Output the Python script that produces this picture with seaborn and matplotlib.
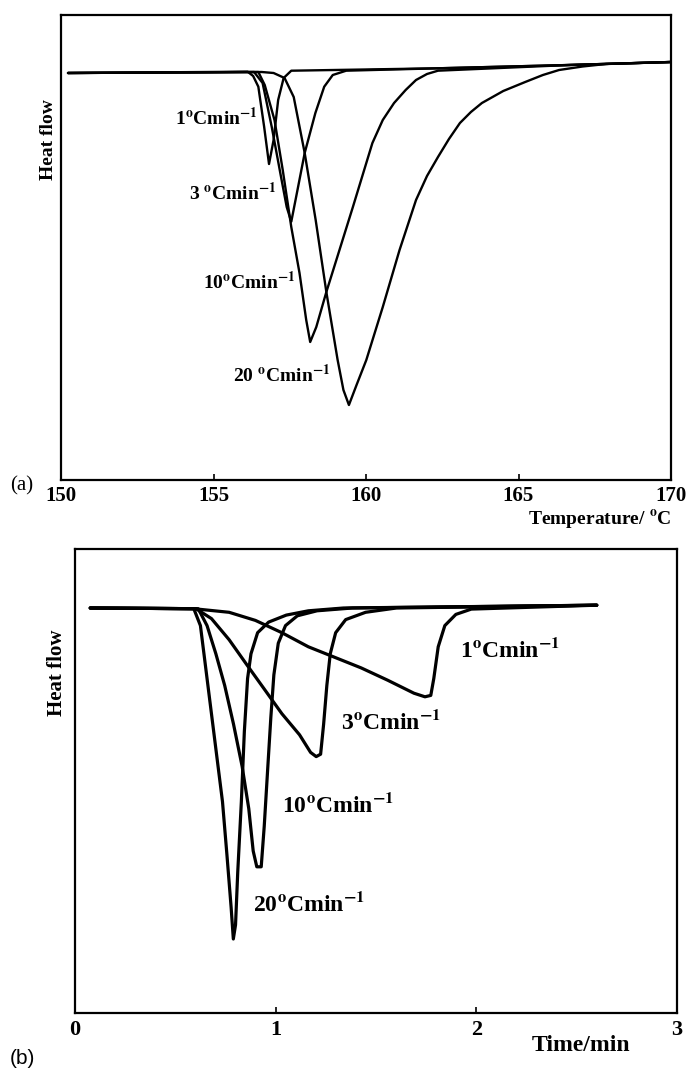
import numpy as np
import pandas as pd
import matplotlib
matplotlib.use("Agg")
import matplotlib.pyplot as plt
import seaborn as sns

# ---------------- data: panel (a) temperature scans ----------------
rates_a = ["1", "3", "10", "20"]
T_1 = [150.23, 156.12, 156.30, 156.47, 156.66, 156.82, 156.97, 157.12, 157.30, 157.55, 162.36, 166.66, 170.0]
H_1 = [-0.10, 0.03, -0.40, -1.47, -5.47, -9.20, -6.80, -2.80, -0.60, 0.13, 0.37, 0.70, 1.00]

T_3 = [150.23, 156.33, 156.61, 156.91, 157.19, 157.40, 157.55, 157.76, 157.99, 158.34, 158.63, 158.91, 159.35, 162.36, 166.66, 170.0]
H_3 = [-0.10, 0.00, -1.10, -5.50, -10.10, -13.50, -14.97, -11.70, -8.10, -4.10, -1.47, -0.30, 0.13, 0.37, 0.70, 1.00]

T_10 = [150.23, 156.47, 156.68, 157.00, 157.27, 157.55, 157.82, 158.04, 158.17, 158.37, 158.70, 159.13, 159.57, 160.21, 160.55, 160.92, 161.30, 161.64, 162.00, 162.36, 166.66, 170.0]
H_10 = [-0.10, 0.00, -1.30, -4.80, -9.80, -15.50, -20.10, -24.80, -27.00, -25.50, -22.00, -17.80, -13.50, -7.10, -4.80, -3.10, -1.80, -0.80, -0.20, 0.13, 0.70, 1.00]

T_20 = [150.23, 156.58, 156.97, 157.33, 157.63, 157.99, 158.35, 158.70, 159.07, 159.26, 159.44, 159.69, 160.01, 160.55, 161.10, 161.64, 162.00, 162.36, 162.72, 163.08, 163.44, 163.80, 164.50, 165.22, 165.80, 166.33, 167.10, 167.87, 170.0]
H_20 = [-0.10, 0.00, -0.10, -0.60, -2.50, -8.10, -14.80, -22.00, -28.80, -31.80, -33.30, -31.30, -28.80, -23.50, -17.80, -12.80, -10.40, -8.50, -6.70, -5.10, -4.00, -3.10, -1.90, -1.00, -0.30, 0.20, 0.55, 0.80, 1.00]

# ---------------- data: panel (b) isothermal-time scans ----------------
t_1 = [0.076, 0.592, 0.768, 0.899, 1.031, 1.163, 1.294, 1.426, 1.558, 1.689, 1.744, 1.773, 1.788, 1.810, 1.843, 1.898, 1.975, 2.600]
h_1 = [0.00, -0.07, -0.43, -1.24, -2.47, -3.88, -4.93, -5.99, -7.22, -8.52, -8.88, -8.74, -7.05, -3.88, -1.76, -0.64, -0.11, 0.28]

t_3 = [0.076, 0.603, 0.680, 0.768, 0.855, 0.943, 1.031, 1.119, 1.174, 1.202, 1.224, 1.239, 1.255, 1.272, 1.299, 1.349, 1.448, 1.602, 2.600]
h_3 = [0.00, -0.07, -1.06, -3.17, -5.64, -8.10, -10.57, -12.68, -14.44, -14.86, -14.62, -11.62, -7.75, -4.58, -2.47, -1.16, -0.43, 0.00, 0.28]

t_10 = [0.076, 0.614, 0.658, 0.702, 0.746, 0.790, 0.833, 0.866, 0.888, 0.906, 0.928, 0.943, 0.961, 0.976, 0.991, 1.013, 1.049, 1.108, 1.206, 1.382, 2.600]
h_10 = [0.00, -0.07, -1.76, -4.58, -7.75, -11.62, -15.85, -20.07, -24.30, -25.88, -25.88, -21.83, -15.85, -10.92, -6.69, -3.52, -1.76, -0.78, -0.28, 0.00, 0.28]

t_20 = [0.076, 0.592, 0.625, 0.647, 0.669, 0.702, 0.735, 0.757, 0.778, 0.789, 0.800, 0.811, 0.829, 0.844, 0.860, 0.877, 0.910, 0.965, 1.053, 1.163, 1.338, 2.600]
h_20 = [0.00, -0.07, -1.76, -5.28, -8.81, -14.09, -19.37, -24.65, -29.93, -33.10, -31.69, -26.41, -19.37, -12.33, -7.05, -4.58, -2.47, -1.41, -0.71, -0.28, 0.00, 0.28]

ticks_a = [150, 155, 160, 165, 170]
ticks_b = [0, 1, 2, 3]

# label texts
labels_a = ["1$^{\\mathbf{o}}$Cmin$^{\\mathbf{-1}}$", "3 $^{\\mathbf{o}}$Cmin$^{\\mathbf{-1}}$",
            "10$^{\\mathbf{o}}$Cmin$^{\\mathbf{-1}}$", "20 $^{\\mathbf{o}}$Cmin$^{\\mathbf{-1}}$"]
labels_b = ["1$^{\\mathbf{o}}$Cmin$^{\\mathbf{-1}}$", "3$^{\\mathbf{o}}$Cmin$^{\\mathbf{-1}}$",
            "10$^{\\mathbf{o}}$Cmin$^{\\mathbf{-1}}$", "20$^{\\mathbf{o}}$Cmin$^{\\mathbf{-1}}$"]

# label anchor positions (layout, not data)
pos_a = [(153.73, -4.6), (154.19, -12.1), (154.65, -21.0), (155.63, -30.3)]
pos_b = [(1.918, -4.2), (1.325, -11.4), (1.031, -19.7), (0.887, -29.6)]

df_a = pd.concat([
    pd.DataFrame({"T": T_1, "HF": H_1, "rate": "1"}),
    pd.DataFrame({"T": T_3, "HF": H_3, "rate": "3"}),
    pd.DataFrame({"T": T_10, "HF": H_10, "rate": "10"}),
    pd.DataFrame({"T": T_20, "HF": H_20, "rate": "20"}),
], ignore_index=True)

df_b = pd.concat([
    pd.DataFrame({"t": t_1, "HF": h_1, "rate": "1"}),
    pd.DataFrame({"t": t_3, "HF": h_3, "rate": "3"}),
    pd.DataFrame({"t": t_10, "HF": h_10, "rate": "10"}),
    pd.DataFrame({"t": t_20, "HF": h_20, "rate": "20"}),
], ignore_index=True)

# ---------------- style ----------------
sns.set_theme(style="white")
plt.rcParams["font.family"] = ["Liberation Serif", "DejaVu Serif"]
plt.rcParams["mathtext.fontset"] = "stix"
plt.rcParams["axes.edgecolor"] = "black"
plt.rcParams["axes.linewidth"] = 1.6
plt.rcParams["text.color"] = "black"
plt.rcParams["axes.labelcolor"] = "black"
plt.rcParams["xtick.color"] = "black"
plt.rcParams["ytick.color"] = "black"

fig = plt.figure(figsize=(6.86, 10.69), dpi=100)
W, H = 686.0, 1069.0
ax_a = fig.add_axes([61 / W, 1 - 480 / H, 610 / W, 465 / H])
ax_b = fig.add_axes([75 / W, 1 - 1013 / H, 602 / W, 464 / H])

sns.lineplot(data=df_a, x="T", y="HF", units="rate", estimator=None, color="black",
             linewidth=1.7, ax=ax_a, legend=False)
sns.lineplot(data=df_b, x="t", y="HF", units="rate", estimator=None, color="black",
             linewidth=2.3, ax=ax_b, legend=False)

# panel a axes
ax_a.set_xlim(150, 170)
ax_a.set_ylim(-40.8, 5.7)
ax_a.set_xticks(ticks_a)
ax_a.set_xticklabels([str(v) for v in ticks_a], fontsize=15, fontweight="bold")
ax_a.set_yticks([])
ax_a.tick_params(axis="x", bottom=True, direction="in", length=4, width=1.2, pad=4, colors="black")
ax_a.set_xlabel("Temperature/ $^{\\mathbf{o}}$C", fontsize=14, fontweight="bold", ha="right", va="center")
ax_a.xaxis.set_label_coords(1.0, -0.086)
ax_a.set_ylabel("Heat flow", fontsize=14, fontweight="bold", va="center")
ax_a.yaxis.set_label_coords(-0.021, 0.733)
for txt, (x, y) in zip(labels_a, pos_a):
    ax_a.text(x, y, txt, fontsize=14, fontweight="bold", ha="left", va="center", color="black")

# panel b axes
ax_b.set_xlim(0, 3)
ax_b.set_ylim(-40.5, 5.9)
ax_b.set_xticks(ticks_b)
ax_b.set_xticklabels([str(v) for v in ticks_b], fontsize=16, fontweight="bold")
ax_b.set_yticks([])
ax_b.tick_params(axis="x", bottom=True, direction="in", length=4, width=1.2, pad=5, colors="black")
ax_b.set_xlabel("Time/min", fontsize=17, fontweight="bold", ha="right", va="center")
ax_b.xaxis.set_label_coords(0.922, -0.069)
ax_b.set_ylabel("Heat flow", fontsize=15, fontweight="bold", va="center")
ax_b.yaxis.set_label_coords(-0.030, 0.733)
for txt, (x, y) in zip(labels_b, pos_b):
    ax_b.text(x, y, txt, fontsize=17, fontweight="bold", ha="left", va="center", color="black")

for ax in (ax_a, ax_b):
    for s in ax.spines.values():
        s.set_color("black")
        s.set_linewidth(1.6)

fig.text(10 / W, 1 - 486 / H, "(a)", fontsize=15, ha="left", va="center", color="black")
fig.text(10 / W, 1 - 1058 / H, "(b)", fontsize=15, ha="left", va="center", color="black",
         family=["Liberation Sans", "DejaVu Sans"])

fig.savefig("out.png", dpi=100, facecolor="white")
